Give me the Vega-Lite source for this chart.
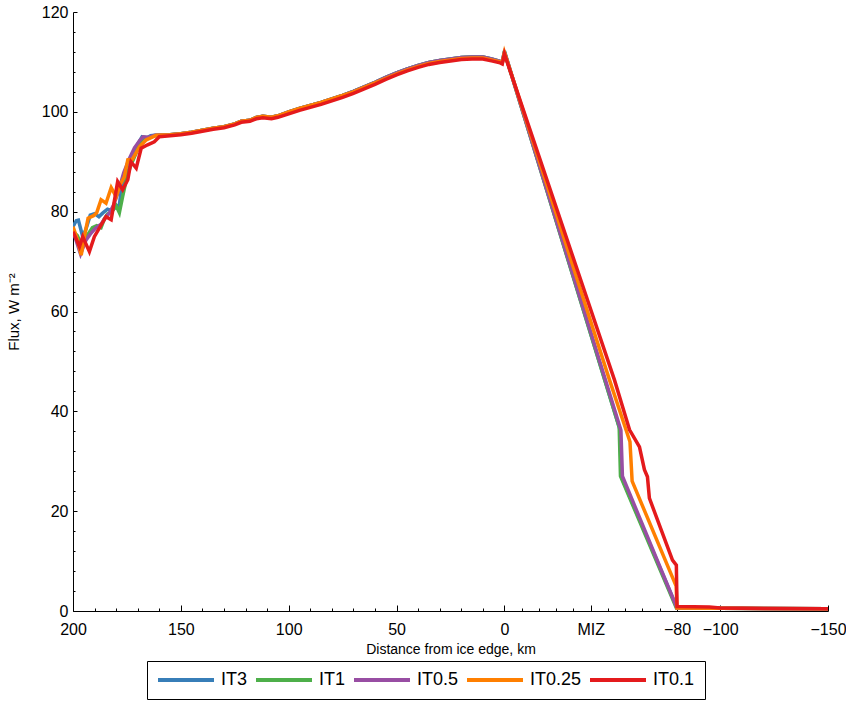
{
  "$schema": "https://vega.github.io/schema/vega-lite/v6.json",
  "width": 755,
  "height": 599,
  "autosize": {"type": "none"},
  "padding": {"left": 73, "top": 12, "right": 18, "bottom": 91},
  "background": "white",
  "config": {
    "view": {"stroke": null},
    "font": "Liberation Sans",
    "axis": {"labelFont": "Liberation Sans", "titleFont": "Liberation Sans", "domainColor": "black", "tickColor": "black", "labelColor": "black", "titleColor": "black", "grid": false}
  },
  "data": {
    "values": [
      {"run": "IT3", "km": 200, "flux": 77.0}, {"run": "IT3", "km": 198.5, "flux": 78.2}, {"run": "IT3", "km": 197.5, "flux": 78.3}, {"run": "IT3", "km": 195.5, "flux": 75.0}, {"run": "IT3", "km": 194, "flux": 76.5}, {"run": "IT3", "km": 192, "flux": 79.3}, {"run": "IT3", "km": 190, "flux": 79.6}, {"run": "IT3", "km": 188, "flux": 79.0}, {"run": "IT3", "km": 186, "flux": 79.8}, {"run": "IT3", "km": 184, "flux": 80.5}, {"run": "IT3", "km": 182, "flux": 80.2}, {"run": "IT3", "km": 180, "flux": 81.0}, {"run": "IT3", "km": 178.5, "flux": 81.4}, {"run": "IT3", "km": 177.5, "flux": 84.6}, {"run": "IT3", "km": 175, "flux": 87.5}, {"run": "IT3", "km": 172.5, "flux": 90.5}, {"run": "IT3", "km": 170, "flux": 93.5}, {"run": "IT3", "km": 168, "flux": 95.0}, {"run": "IT3", "km": 166, "flux": 94.7}, {"run": "IT3", "km": 164, "flux": 95.2}, {"run": "IT3", "km": 162, "flux": 95.3},
      {"run": "IT3", "km": 155, "flux": 95.4}, {"run": "IT3", "km": 150, "flux": 95.6}, {"run": "IT3", "km": 145, "flux": 95.9}, {"run": "IT3", "km": 140, "flux": 96.3}, {"run": "IT3", "km": 135, "flux": 96.7}, {"run": "IT3", "km": 130, "flux": 97.0}, {"run": "IT3", "km": 125, "flux": 97.6}, {"run": "IT3", "km": 122, "flux": 98.1}, {"run": "IT3", "km": 118, "flux": 98.3}, {"run": "IT3", "km": 115, "flux": 98.9}, {"run": "IT3", "km": 112, "flux": 99.1}, {"run": "IT3", "km": 108, "flux": 98.9}, {"run": "IT3", "km": 105, "flux": 99.2}, {"run": "IT3", "km": 100, "flux": 100.0}, {"run": "IT3", "km": 95, "flux": 100.7}, {"run": "IT3", "km": 90, "flux": 101.3}, {"run": "IT3", "km": 85, "flux": 101.9}, {"run": "IT3", "km": 80, "flux": 102.6}, {"run": "IT3", "km": 75, "flux": 103.3}, {"run": "IT3", "km": 70, "flux": 104.1}, {"run": "IT3", "km": 65, "flux": 105.0}, {"run": "IT3", "km": 60, "flux": 105.9}, {"run": "IT3", "km": 55, "flux": 106.9}, {"run": "IT3", "km": 50, "flux": 107.8}, {"run": "IT3", "km": 45, "flux": 108.6}, {"run": "IT3", "km": 40, "flux": 109.3}, {"run": "IT3", "km": 35, "flux": 109.9}, {"run": "IT3", "km": 30, "flux": 110.3}, {"run": "IT3", "km": 25, "flux": 110.6}, {"run": "IT3", "km": 20, "flux": 110.9}, {"run": "IT3", "km": 15, "flux": 111.0}, {"run": "IT3", "km": 10, "flux": 111.0}, {"run": "IT3", "km": 6, "flux": 110.6}, {"run": "IT3", "km": 2, "flux": 110.1}, {"run": "IT3", "km": 1, "flux": 109.9}, {"run": "IT3", "km": 0, "flux": 112.2},
      {"run": "IT3", "km": -53.5, "flux": 36.4}, {"run": "IT3", "km": -54.2, "flux": 26.9}, {"run": "IT3", "km": -80, "flux": 0.6}, {"run": "IT3", "km": -100, "flux": 0.55}, {"run": "IT3", "km": -120, "flux": 0.5}, {"run": "IT3", "km": -150, "flux": 0.45},

      {"run": "IT1", "km": 200, "flux": 76.0}, {"run": "IT1", "km": 198, "flux": 75.2}, {"run": "IT1", "km": 196.5, "flux": 73.8}, {"run": "IT1", "km": 195, "flux": 74.8}, {"run": "IT1", "km": 193, "flux": 75.5}, {"run": "IT1", "km": 191, "flux": 76.8}, {"run": "IT1", "km": 189, "flux": 77.2}, {"run": "IT1", "km": 187, "flux": 76.8}, {"run": "IT1", "km": 185.5, "flux": 78.5}, {"run": "IT1", "km": 184, "flux": 79.5}, {"run": "IT1", "km": 182, "flux": 80.0}, {"run": "IT1", "km": 180, "flux": 81.2}, {"run": "IT1", "km": 178.5, "flux": 79.8}, {"run": "IT1", "km": 177, "flux": 83.0}, {"run": "IT1", "km": 175, "flux": 87.0}, {"run": "IT1", "km": 173, "flux": 89.5}, {"run": "IT1", "km": 171, "flux": 91.5}, {"run": "IT1", "km": 169, "flux": 93.8}, {"run": "IT1", "km": 167, "flux": 94.9}, {"run": "IT1", "km": 165, "flux": 94.8}, {"run": "IT1", "km": 162, "flux": 95.2},
      {"run": "IT1", "km": 155, "flux": 95.4}, {"run": "IT1", "km": 150, "flux": 95.6}, {"run": "IT1", "km": 145, "flux": 95.9}, {"run": "IT1", "km": 140, "flux": 96.3}, {"run": "IT1", "km": 135, "flux": 96.7}, {"run": "IT1", "km": 130, "flux": 97.0}, {"run": "IT1", "km": 125, "flux": 97.6}, {"run": "IT1", "km": 122, "flux": 98.1}, {"run": "IT1", "km": 118, "flux": 98.3}, {"run": "IT1", "km": 115, "flux": 98.9}, {"run": "IT1", "km": 112, "flux": 99.1}, {"run": "IT1", "km": 108, "flux": 98.9}, {"run": "IT1", "km": 105, "flux": 99.2}, {"run": "IT1", "km": 100, "flux": 100.0}, {"run": "IT1", "km": 95, "flux": 100.7}, {"run": "IT1", "km": 90, "flux": 101.3}, {"run": "IT1", "km": 85, "flux": 101.9}, {"run": "IT1", "km": 80, "flux": 102.6}, {"run": "IT1", "km": 75, "flux": 103.3}, {"run": "IT1", "km": 70, "flux": 104.1}, {"run": "IT1", "km": 65, "flux": 105.0}, {"run": "IT1", "km": 60, "flux": 105.9}, {"run": "IT1", "km": 55, "flux": 106.9}, {"run": "IT1", "km": 50, "flux": 107.8}, {"run": "IT1", "km": 45, "flux": 108.6}, {"run": "IT1", "km": 40, "flux": 109.3}, {"run": "IT1", "km": 35, "flux": 109.9}, {"run": "IT1", "km": 30, "flux": 110.3}, {"run": "IT1", "km": 25, "flux": 110.6}, {"run": "IT1", "km": 20, "flux": 110.9}, {"run": "IT1", "km": 15, "flux": 111.0}, {"run": "IT1", "km": 10, "flux": 111.0}, {"run": "IT1", "km": 6, "flux": 110.6}, {"run": "IT1", "km": 2, "flux": 110.1}, {"run": "IT1", "km": 1, "flux": 109.9}, {"run": "IT1", "km": 0, "flux": 112.0},
      {"run": "IT1", "km": -53.2, "flux": 36.8}, {"run": "IT1", "km": -53.8, "flux": 27.0}, {"run": "IT1", "km": -79.7, "flux": 0.6}, {"run": "IT1", "km": -100, "flux": 0.55}, {"run": "IT1", "km": -120, "flux": 0.5}, {"run": "IT1", "km": -150, "flux": 0.45},

      {"run": "IT0.5", "km": 200, "flux": 76.2}, {"run": "IT0.5", "km": 198, "flux": 73.5}, {"run": "IT0.5", "km": 196.5, "flux": 71.5}, {"run": "IT0.5", "km": 194, "flux": 74.3}, {"run": "IT0.5", "km": 192, "flux": 75.5}, {"run": "IT0.5", "km": 189.5, "flux": 76.7}, {"run": "IT0.5", "km": 187, "flux": 77.5}, {"run": "IT0.5", "km": 185, "flux": 78.8}, {"run": "IT0.5", "km": 183, "flux": 79.8}, {"run": "IT0.5", "km": 181, "flux": 81.5}, {"run": "IT0.5", "km": 179, "flux": 84.0}, {"run": "IT0.5", "km": 176.5, "flux": 87.8}, {"run": "IT0.5", "km": 174, "flux": 90.5}, {"run": "IT0.5", "km": 171.5, "flux": 92.8}, {"run": "IT0.5", "km": 169, "flux": 94.3}, {"run": "IT0.5", "km": 167.5, "flux": 95.0}, {"run": "IT0.5", "km": 165, "flux": 94.9}, {"run": "IT0.5", "km": 162, "flux": 95.3},
      {"run": "IT0.5", "km": 155, "flux": 95.4}, {"run": "IT0.5", "km": 150, "flux": 95.6}, {"run": "IT0.5", "km": 145, "flux": 95.9}, {"run": "IT0.5", "km": 140, "flux": 96.3}, {"run": "IT0.5", "km": 135, "flux": 96.7}, {"run": "IT0.5", "km": 130, "flux": 97.0}, {"run": "IT0.5", "km": 125, "flux": 97.6}, {"run": "IT0.5", "km": 122, "flux": 98.1}, {"run": "IT0.5", "km": 118, "flux": 98.3}, {"run": "IT0.5", "km": 115, "flux": 98.9}, {"run": "IT0.5", "km": 112, "flux": 99.1}, {"run": "IT0.5", "km": 108, "flux": 98.9}, {"run": "IT0.5", "km": 105, "flux": 99.2}, {"run": "IT0.5", "km": 100, "flux": 100.0}, {"run": "IT0.5", "km": 95, "flux": 100.7}, {"run": "IT0.5", "km": 90, "flux": 101.3}, {"run": "IT0.5", "km": 85, "flux": 101.9}, {"run": "IT0.5", "km": 80, "flux": 102.6}, {"run": "IT0.5", "km": 75, "flux": 103.3}, {"run": "IT0.5", "km": 70, "flux": 104.1}, {"run": "IT0.5", "km": 65, "flux": 105.0}, {"run": "IT0.5", "km": 60, "flux": 105.9}, {"run": "IT0.5", "km": 55, "flux": 106.9}, {"run": "IT0.5", "km": 50, "flux": 107.8}, {"run": "IT0.5", "km": 45, "flux": 108.6}, {"run": "IT0.5", "km": 40, "flux": 109.3}, {"run": "IT0.5", "km": 35, "flux": 109.9}, {"run": "IT0.5", "km": 30, "flux": 110.3}, {"run": "IT0.5", "km": 25, "flux": 110.6}, {"run": "IT0.5", "km": 20, "flux": 110.9}, {"run": "IT0.5", "km": 15, "flux": 111.0}, {"run": "IT0.5", "km": 10, "flux": 111.0}, {"run": "IT0.5", "km": 6, "flux": 110.6}, {"run": "IT0.5", "km": 2, "flux": 110.1}, {"run": "IT0.5", "km": 1, "flux": 109.9}, {"run": "IT0.5", "km": 0, "flux": 112.0},
      {"run": "IT0.5", "km": -54.0, "flux": 36.2}, {"run": "IT0.5", "km": -54.7, "flux": 27.0}, {"run": "IT0.5", "km": -80, "flux": 0.6}, {"run": "IT0.5", "km": -100, "flux": 0.55}, {"run": "IT0.5", "km": -120, "flux": 0.5}, {"run": "IT0.5", "km": -150, "flux": 0.45},

      {"run": "IT0.25", "km": 200, "flux": 77.0}, {"run": "IT0.25", "km": 198, "flux": 74.5}, {"run": "IT0.25", "km": 196.2, "flux": 71.3}, {"run": "IT0.25", "km": 194.5, "flux": 75.5}, {"run": "IT0.25", "km": 193, "flux": 78.7}, {"run": "IT0.25", "km": 190.5, "flux": 79.2}, {"run": "IT0.25", "km": 189, "flux": 79.8}, {"run": "IT0.25", "km": 187, "flux": 82.4}, {"run": "IT0.25", "km": 184.7, "flux": 81.7}, {"run": "IT0.25", "km": 182.3, "flux": 84.8}, {"run": "IT0.25", "km": 180, "flux": 83.0}, {"run": "IT0.25", "km": 178, "flux": 85.5}, {"run": "IT0.25", "km": 176.2, "flux": 87.0}, {"run": "IT0.25", "km": 174.6, "flux": 90.4}, {"run": "IT0.25", "km": 172.5, "flux": 90.5}, {"run": "IT0.25", "km": 169.2, "flux": 93.0}, {"run": "IT0.25", "km": 166, "flux": 94.4}, {"run": "IT0.25", "km": 163, "flux": 95.0}, {"run": "IT0.25", "km": 161.5, "flux": 95.3},
      {"run": "IT0.25", "km": 155, "flux": 95.4}, {"run": "IT0.25", "km": 150, "flux": 95.6}, {"run": "IT0.25", "km": 145, "flux": 95.9}, {"run": "IT0.25", "km": 140, "flux": 96.3}, {"run": "IT0.25", "km": 135, "flux": 96.7}, {"run": "IT0.25", "km": 130, "flux": 97.0}, {"run": "IT0.25", "km": 125, "flux": 97.6}, {"run": "IT0.25", "km": 122, "flux": 98.1}, {"run": "IT0.25", "km": 118, "flux": 98.3}, {"run": "IT0.25", "km": 115, "flux": 98.9}, {"run": "IT0.25", "km": 112, "flux": 99.1}, {"run": "IT0.25", "km": 108, "flux": 98.9}, {"run": "IT0.25", "km": 105, "flux": 99.2}, {"run": "IT0.25", "km": 100, "flux": 100.0}, {"run": "IT0.25", "km": 95, "flux": 100.7}, {"run": "IT0.25", "km": 90, "flux": 101.3}, {"run": "IT0.25", "km": 85, "flux": 101.9}, {"run": "IT0.25", "km": 80, "flux": 102.6}, {"run": "IT0.25", "km": 75, "flux": 103.3}, {"run": "IT0.25", "km": 70, "flux": 104.0}, {"run": "IT0.25", "km": 65, "flux": 104.9}, {"run": "IT0.25", "km": 60, "flux": 105.8}, {"run": "IT0.25", "km": 55, "flux": 106.7}, {"run": "IT0.25", "km": 50, "flux": 107.6}, {"run": "IT0.25", "km": 45, "flux": 108.4}, {"run": "IT0.25", "km": 40, "flux": 109.1}, {"run": "IT0.25", "km": 35, "flux": 109.7}, {"run": "IT0.25", "km": 30, "flux": 110.1}, {"run": "IT0.25", "km": 25, "flux": 110.4}, {"run": "IT0.25", "km": 20, "flux": 110.7}, {"run": "IT0.25", "km": 15, "flux": 110.8}, {"run": "IT0.25", "km": 10, "flux": 110.8}, {"run": "IT0.25", "km": 6, "flux": 110.4}, {"run": "IT0.25", "km": 2, "flux": 110.0}, {"run": "IT0.25", "km": 1, "flux": 109.8}, {"run": "IT0.25", "km": 0, "flux": 111.9},
      {"run": "IT0.25", "km": -48.7, "flux": 46.3}, {"run": "IT0.25", "km": -58.2, "flux": 33.9}, {"run": "IT0.25", "km": -59.2, "flux": 26.0}, {"run": "IT0.25", "km": -79.6, "flux": 5.0}, {"run": "IT0.25", "km": -80, "flux": 0.6}, {"run": "IT0.25", "km": -100, "flux": 0.55}, {"run": "IT0.25", "km": -120, "flux": 0.5}, {"run": "IT0.25", "km": -150, "flux": 0.45},

      {"run": "IT0.1", "km": 200, "flux": 76.0}, {"run": "IT0.1", "km": 198.5, "flux": 74.5}, {"run": "IT0.1", "km": 197, "flux": 73.0}, {"run": "IT0.1", "km": 195.5, "flux": 75.0}, {"run": "IT0.1", "km": 192.4, "flux": 72.0}, {"run": "IT0.1", "km": 190.1, "flux": 75.0}, {"run": "IT0.1", "km": 187.8, "flux": 76.7}, {"run": "IT0.1", "km": 184.7, "flux": 79.0}, {"run": "IT0.1", "km": 182.3, "flux": 78.4}, {"run": "IT0.1", "km": 179.3, "flux": 86.0}, {"run": "IT0.1", "km": 177, "flux": 84.4}, {"run": "IT0.1", "km": 174.6, "flux": 86.4}, {"run": "IT0.1", "km": 173.1, "flux": 90.0}, {"run": "IT0.1", "km": 170.7, "flux": 88.7}, {"run": "IT0.1", "km": 168.4, "flux": 92.7}, {"run": "IT0.1", "km": 165.4, "flux": 93.4}, {"run": "IT0.1", "km": 162.3, "flux": 94.0}, {"run": "IT0.1", "km": 160, "flux": 95.0},
      {"run": "IT0.1", "km": 155, "flux": 95.2}, {"run": "IT0.1", "km": 150, "flux": 95.4}, {"run": "IT0.1", "km": 145, "flux": 95.7}, {"run": "IT0.1", "km": 140, "flux": 96.1}, {"run": "IT0.1", "km": 135, "flux": 96.5}, {"run": "IT0.1", "km": 130, "flux": 96.8}, {"run": "IT0.1", "km": 125, "flux": 97.4}, {"run": "IT0.1", "km": 122, "flux": 97.9}, {"run": "IT0.1", "km": 118, "flux": 98.1}, {"run": "IT0.1", "km": 115, "flux": 98.6}, {"run": "IT0.1", "km": 112, "flux": 98.8}, {"run": "IT0.1", "km": 108, "flux": 98.6}, {"run": "IT0.1", "km": 105, "flux": 98.9}, {"run": "IT0.1", "km": 100, "flux": 99.6}, {"run": "IT0.1", "km": 95, "flux": 100.3}, {"run": "IT0.1", "km": 90, "flux": 100.9}, {"run": "IT0.1", "km": 85, "flux": 101.5}, {"run": "IT0.1", "km": 80, "flux": 102.2}, {"run": "IT0.1", "km": 75, "flux": 102.9}, {"run": "IT0.1", "km": 70, "flux": 103.7}, {"run": "IT0.1", "km": 65, "flux": 104.6}, {"run": "IT0.1", "km": 60, "flux": 105.5}, {"run": "IT0.1", "km": 55, "flux": 106.5}, {"run": "IT0.1", "km": 50, "flux": 107.4}, {"run": "IT0.1", "km": 45, "flux": 108.2}, {"run": "IT0.1", "km": 40, "flux": 108.9}, {"run": "IT0.1", "km": 35, "flux": 109.5}, {"run": "IT0.1", "km": 30, "flux": 109.9}, {"run": "IT0.1", "km": 25, "flux": 110.2}, {"run": "IT0.1", "km": 20, "flux": 110.5}, {"run": "IT0.1", "km": 15, "flux": 110.6}, {"run": "IT0.1", "km": 10, "flux": 110.6}, {"run": "IT0.1", "km": 6, "flux": 110.2}, {"run": "IT0.1", "km": 2, "flux": 109.8}, {"run": "IT0.1", "km": 1, "flux": 109.6}, {"run": "IT0.1", "km": 0, "flux": 111.6},
      {"run": "IT0.1", "km": -51, "flux": 46.3}, {"run": "IT0.1", "km": -58, "flux": 36.3}, {"run": "IT0.1", "km": -62.6, "flux": 32.9}, {"run": "IT0.1", "km": -64.9, "flux": 28.3}, {"run": "IT0.1", "km": -66.3, "flux": 26.9}, {"run": "IT0.1", "km": -67.2, "flux": 22.6}, {"run": "IT0.1", "km": -77.9, "flux": 10.2}, {"run": "IT0.1", "km": -79.7, "flux": 9.2}, {"run": "IT0.1", "km": -80, "flux": 0.9}, {"run": "IT0.1", "km": -95, "flux": 0.8}, {"run": "IT0.1", "km": -100, "flux": 0.6}, {"run": "IT0.1", "km": -120, "flux": 0.5}, {"run": "IT0.1", "km": -150, "flux": 0.45}
    ]
  },
  "layer": [
    {
      "mark": {"type": "point", "opacity": 0},
      "encoding": {
        "x": {
          "field": "km", "type": "quantitative",
          "scale": {"domain": [200, -150], "nice": false, "zero": false},
          "axis": {"orient": "bottom", "values": [190, 180, 170, 160, 140, 130, 120, 110, 90, 80, 70, 60, 40, 30, 20, 10, -8, -16, -24, -32, -48, -56, -64, -72], "labels": false, "domain": false, "tickSize": -3, "title": null}
        },
        "y": {
          "field": "flux", "type": "quantitative",
          "scale": {"domain": [0, 120], "nice": false},
          "axis": {"orient": "left", "values": [4, 8, 12, 16, 24, 28, 32, 36, 44, 48, 52, 56, 64, 68, 72, 76, 84, 88, 92, 96, 104, 108, 112, 116], "labels": false, "domain": false, "tickSize": -2, "title": null}
        }
      }
    },
    {
      "mark": {"type": "line", "strokeWidth": 3.5, "strokeJoin": "miter", "clip": true},
      "encoding": {
        "x": {
          "field": "km", "type": "quantitative",
          "axis": {
            "orient": "bottom",
            "values": [200, 150, 100, 50, 0, -40, -80, -100, -150],
            "labelExpr": "datum.value == -40 ? 'MIZ' : datum.label",
            "labelFontSize": 16, "labelPadding": 16, "labelOverlap": false, "labelBound": false, "labelFlush": false,
            "tickSize": -6, "domainWidth": 1,
            "title": "Distance from ice edge, km", "titleFontSize": 14, "titleFontWeight": "normal", "titlePadding": 5
          }
        },
        "y": {
          "field": "flux", "type": "quantitative",
          "axis": {
            "orient": "left",
            "values": [0, 20, 40, 60, 80, 100, 120],
            "labelFontSize": 16, "labelPadding": 9, "tickSize": -4,
            "title": "Flux, W m⁻²", "titleFontSize": 15, "titleFontWeight": "normal", "titlePadding": 20
          }
        },
        "color": {
          "field": "run", "type": "nominal",
          "scale": {"domain": ["IT3", "IT1", "IT0.5", "IT0.25", "IT0.1"], "range": ["#377eb8", "#4daf4a", "#984ea3", "#ff7f00", "#e41a1c"]},
          "legend": {
            "title": null, "orient": "none", "direction": "horizontal", "legendX": 74, "legendY": 649,
            "symbolType": "M-28,0H28", "symbolSize": 4, "symbolStrokeWidth": 4, "symbolOffset": 20,
            "labelFontSize": 18, "labelFont": "Liberation Sans", "labelColor": "black", "labelOffset": 26,
            "columnPadding": 0, "padding": 10, "strokeColor": "black", "fillColor": "white"
          }
        }
      }
    }
  ],
  "resolve": {"axis": {"x": "independent", "y": "independent"}}
}
